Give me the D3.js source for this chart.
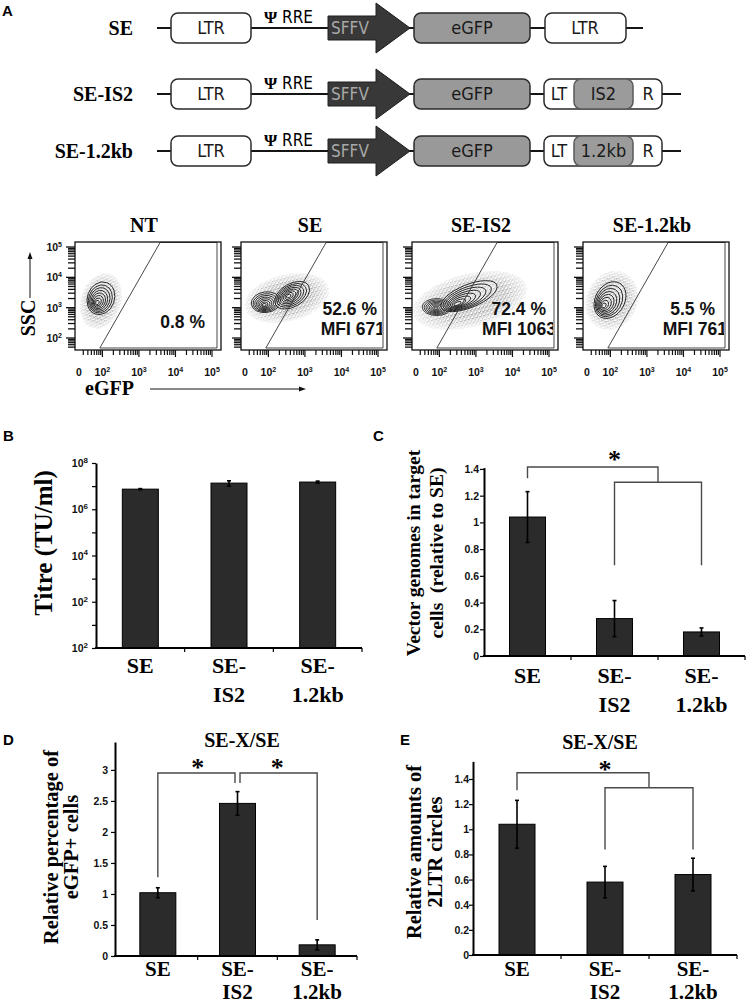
<!DOCTYPE html>
<html><head><meta charset="utf-8">
<script src="https://cdn.jsdelivr.net/npm/d3@7"></script>
<style>body{margin:0;background:#fff}svg{display:block}</style>
</head><body>
<svg id="fig" width="747" height="1004"></svg>
<script>
// ================= DATA =================
const categories = ["SE", "SE-IS2", "SE-1.2kb"];
const categoryLines = [["SE"], ["SE-", "IS2"], ["SE-", "1.2kb"]];
const insertLabels = [null, "IS2", "1.2kb"];

// Panel B : titre (TU/ml), log scale
const titreValues = [7.4e6, 1.35e7, 1.5e7];
const titreErrors = [0.4e6, 0.35e7, 0.15e7];
const titreTicks = [1, 1e1, 1e2, 1e3, 1e4, 1e5, 1e6, 1e7, 1e8];
const titreTickLabels = [["10","2"], null, ["10","2"], null, ["10","4"], null, ["10","6"], null, ["10","8"]];

// Panel C : vector genomes (relative to SE)
const genomeValues = [1.04, 0.28, 0.18];
const genomeErrors = [0.19, 0.135, 0.03];
const genomeTicks = [0, 0.2, 0.4, 0.6, 0.8, 1, 1.2, 1.4];

// Panel D : relative percentage eGFP+ cells
const egfpValues = [1.02, 2.46, 0.18];
const egfpErrors = [0.08, 0.19, 0.08];
const egfpTicks = [0, 0.5, 1, 1.5, 2, 2.5, 3];

// Panel E : relative amounts of 2LTR circles
const ltrValues = [1.04, 0.58, 0.64];
const ltrErrors = [0.19, 0.125, 0.13];
const ltrTicks = [0, 0.2, 0.4, 0.6, 0.8, 1, 1.2, 1.4];

// Flow cytometry (panel A lower)
const flowSamples = ["NT", "SE", "SE-IS2", "SE-1.2kb"];
const flowPercent = ["0.8 %", "52.6 %", "72.4 %", "5.5 %"];
const flowMFI = ["", "MFI 671", "MFI 1063", "MFI 761"];
const flowXTicks = [1.36, 2, 3, 4, 5];              // log10 eGFP ("0" at left)
const flowXTickLabels = [["0",""], ["10","2"], ["10","3"], ["10","4"], ["10","5"]];
const flowYTicks = [2, 3, 4, 5];                     // log10 SSC
const flowYTickLabels = [["10","2"], ["10","3"], ["10","4"], ["10","5"]];
const gateEGFP = [1.93, 3.58];                       // gate edge: bottom / top (log10 eGFP)
// populations: sample, centre x, centre y, half-width, half-height (decades), tilt, core x, core y
const flowPopulations = [
  [0, 1.96, 3.31, 0.37, 0.55, 20, 1.85, 3.15],
  [1, 1.93, 3.18, 0.40, 0.34, -8, 1.88, 3.08],
  [1, 2.65, 3.41, 0.52, 0.38, -30, 2.54, 3.38],
  [2, 1.93, 3.02, 0.40, 0.28, 0, 1.90, 2.98],
  [2, 2.81, 3.38, 0.82, 0.38, -22, 2.45, 3.10],
  [3, 1.99, 3.25, 0.40, 0.64, 30, 1.80, 3.05]
];
// dot clouds: sample, centre x, centre y, half-width, half-height, tilt
const flowClouds = [
  [0, 1.96, 3.22, 0.55, 0.95, 18],
  [1, 2.51, 3.32, 1.18, 0.78, -14],
  [2, 2.84, 3.24, 1.60, 0.88, -14],
  [3, 2.04, 3.24, 0.70, 1.0, 25]
];
const contourLevels = [1, 0.86, 0.73, 0.6, 0.48, 0.36, 0.24, 0.13];

// ================= STYLE =================
const SERIF = '"Liberation Serif","Times New Roman",serif';
const SANS = '"Liberation Sans",Arial,sans-serif';
const NARROW = '"Liberation Sans Narrow","DejaVu Sans Condensed","Liberation Sans",sans-serif';
const BAR = "#2b2b2b";

const svg = d3.select("#fig");
const defs = svg.append("defs");
const pat = defs.append("pattern").attr("id", "dots").attr("width", 4).attr("height", 4)
  .attr("patternUnits", "userSpaceOnUse");
[[0.8,0.9,0.7],[2.9,2.1,0.65],[1.8,3.3,0.6],[3.6,0.3,0.55]].forEach(d =>
  pat.append("circle").attr("cx", d[0]).attr("cy", d[1]).attr("r", d[2]).attr("fill", "#111"));
const rg = defs.append("radialGradient").attr("id", "rg");
rg.append("stop").attr("offset", 0).attr("stop-color", "#fff");
rg.append("stop").attr("offset", 0.6).attr("stop-color", "#eee");
rg.append("stop").attr("offset", 1).attr("stop-color", "#333");
defs.append("mask").attr("id", "fade").attr("maskUnits", "objectBoundingBox")
  .attr("maskContentUnits", "objectBoundingBox")
  .append("rect").attr("width", 1).attr("height", 1).attr("fill", "url(#rg)");

function supText(sel, parts, sizeMain, sizeSup) {
  sel.append("tspan").text(parts[0]).attr("font-size", sizeMain);
  if (parts[1]) sel.append("tspan").text(parts[1]).attr("font-size", sizeSup).attr("dy", -sizeMain * 0.4);
}
function panelLabel(t, x, y) {
  svg.append("text").attr("x", x).attr("y", y).text(t)
    .attr("font-family", SANS).attr("font-weight", "bold").attr("font-size", 15);
}

// ================= PANEL A : constructs =================
panelLabel("A", 2, 16);
const rowCenters = [28, 94, 151];
const A = svg.append("g");
function box(x0, x1, cy, fill, stroke) {
  A.append("rect").attr("x", x0).attr("y", cy - 15).attr("width", x1 - x0).attr("height", 30)
    .attr("rx", 7).attr("fill", fill).attr("stroke", stroke || "#2a2a2a").attr("stroke-width", 1.5);
}
function boxText(t, x, cy, color, size) {
  A.append("text").attr("x", x).attr("y", cy + 6).attr("text-anchor", "middle").text(t)
    .attr("font-family", NARROW).attr("font-size", size || 18).attr("fill", color || "#1a1a1a");
}
categories.forEach((name, i) => {
  const cy = rowCenters[i];
  A.append("text").attr("x", 133).attr("y", cy + 7).attr("text-anchor", "end").text(name)
    .attr("font-family", SERIF).attr("font-weight", "bold").attr("font-size", 20);
  A.append("line").attr("x1", 157).attr("x2", i === 0 ? 643 : 681).attr("y1", cy).attr("y2", cy)
    .attr("stroke", "#151515").attr("stroke-width", 2.2);
  box(171, 251, cy, "#fff"); boxText("LTR", 211, cy);
  const rre = A.append("text").attr("x", 264).attr("y", cy - 5).attr("font-family", NARROW).attr("font-size", 17);
  rre.append("tspan").text("Ψ").attr("font-family", SERIF).attr("font-weight", "bold");
  rre.append("tspan").text(" RRE");
  A.append("path").attr("d", `M328,${cy-12}H376V${cy-25}L410,${cy}L376,${cy+25}V${cy+12}H328Z`)
    .attr("fill", "#383838").attr("stroke", "#1e1e1e").attr("stroke-width", 1);
  boxText("SFFV", 350, cy, "#a8a8a8", 17);
  box(414, 530, cy, "#999"); boxText("eGFP", 472, cy);
  if (!insertLabels[i]) {
    box(545, 626, cy, "#fff"); boxText("LTR", 585, cy);
  } else {
    box(544, 662, cy, "#fff");
    box(574, 633, cy, "#9b9b9b", "#5a5a5a");
    boxText("LT", 559, cy); boxText(insertLabels[i], 603.5, cy); boxText("R", 648, cy);
  }
});

// ================= PANEL A : flow plots =================
const flowLeft = [75, 241, 412, 583];
const FT = 242, FW = 146, FH = 108;
const fx = d3.scaleLinear().domain([1.36, 5]).range([4, 137]);
const fy = d3.scaleLinear().domain([2, 5]).range([96, 5]);

flowSamples.forEach((s, i) => {
  const g = svg.append("g").attr("transform", `translate(${flowLeft[i]},${FT})`);
  g.append("text").attr("x", FW / 2 - 4).attr("y", -10).attr("text-anchor", "middle").text(s)
    .attr("font-family", SERIF).attr("font-weight", "bold").attr("font-size", 20);
  defs.append("clipPath").attr("id", "clip" + i).append("rect").attr("width", 141).attr("height", FH);
  const inner = g.append("g").attr("clip-path", `url(#clip${i})`);
  // dot clouds
  flowClouds.filter(c => c[0] === i).forEach(c => {
    const px = fx(c[1]), py = fy(c[2]);
    inner.append("ellipse").attr("cx", px).attr("cy", py)
      .attr("rx", fx(c[1] + c[3]) - px).attr("ry", py - fy(c[2] + c[4]))
      .attr("transform", `rotate(${c[5]},${px},${py})`)
      .attr("fill", "url(#dots)").attr("mask", "url(#fade)").attr("opacity", 0.7);
  });
  // contours
  flowPopulations.filter(p => p[0] === i).forEach(p => {
    contourLevels.forEach(k => {
      const cx = p[6] + (p[1] - p[6]) * k, cy = p[7] + (p[2] - p[7]) * k;
      const px = fx(cx), py = fy(cy);
      inner.append("ellipse").attr("cx", px).attr("cy", py)
        .attr("rx", (fx(p[1] + p[3]) - fx(p[1])) * k)
        .attr("ry", (fy(p[2]) - fy(p[2] + p[4])) * k)
        .attr("transform", `rotate(${p[5]},${px},${py})`)
        .attr("fill", k === 1 ? "rgba(255,255,255,0.35)" : "none")
        .attr("stroke", "#111").attr("stroke-width", 0.8);
    });
  });
  // gate
  g.append("path").attr("d", `M${fx(gateEGFP[0])},${FH - 2}L${fx(gateEGFP[1])},0.5H${FW - 4}V${FH - 2}Z`)
    .attr("fill", "none").attr("stroke", "#333").attr("stroke-width", 0.9);
  // box
  g.append("rect").attr("width", FW).attr("height", FH).attr("fill", "none")
    .attr("stroke", "#111").attr("stroke-width", 1.3);
  // texts
  const pctX = [130, 136, 134, 132][i], pctY = [86, 73, 73, 73][i];
  inner.append("text").attr("x", pctX).attr("y", pctY).attr("text-anchor", "end").text(flowPercent[i])
    .attr("font-family", SANS).attr("font-weight", "bold").attr("font-size", 17.5).attr("fill", "#111");
  if (flowMFI[i]) inner.append("text").attr("x", 144).attr("y", 93).attr("text-anchor", "end").text(flowMFI[i])
    .attr("font-family", SANS).attr("font-weight", "bold").attr("font-size", 17.5).attr("fill", "#111");
  // y comb
  const yT = [];
  for (let d = 1; d <= 5; d++) for (let k = 1; k <= 9; k++) {
    const v = d + Math.log10(k);
    if (v >= 1.62 && v <= 5.15) yT.push([v, k === 1]);
  }
  g.selectAll(".yt").data(yT).join("line").attr("x1", d => d[1] ? -9 : -7).attr("x2", 0)
    .attr("y1", d => fy(d[0])).attr("y2", d => fy(d[0])).attr("stroke", "#111").attr("stroke-width", 1.3);
  // x comb
  const xT = [];
  for (let d = 1; d <= 5; d++) for (let k = 1; k <= 9; k++) {
    const v = d + Math.log10(k);
    if (v >= 1.36 && v <= 5.05) xT.push([v, k === 1]);
  }
  g.selectAll(".xt").data(xT).join("line").attr("y1", FH).attr("y2", d => FH + (d[1] ? 7 : 5))
    .attr("x1", d => fx(d[0])).attr("x2", d => fx(d[0])).attr("stroke", "#111").attr("stroke-width", 1.2);
  flowXTicks.forEach((v, j) => {
    const t = g.append("text").attr("x", fx(v)).attr("y", FH + 26).attr("text-anchor", "middle")
      .attr("font-family", SANS).attr("font-weight", "bold").attr("fill", "#111");
    supText(t, flowXTickLabels[j], 10.5, 7);
  });
  if (i === 0) flowYTicks.forEach((v, j) => {
    const t = g.append("text").attr("x", -13).attr("y", fy(v) + 4).attr("text-anchor", "end")
      .attr("font-family", SANS).attr("font-weight", "bold").attr("fill", "#111");
    supText(t, flowYTickLabels[j], 10.5, 7);
  });
});
// axis names
svg.append("text").attr("transform", "translate(35,318) rotate(-90)").attr("text-anchor", "middle")
  .text("SSC").attr("font-family", SERIF).attr("font-weight", "bold").attr("font-size", 20);
svg.append("line").attr("x1", 30).attr("x2", 30).attr("y1", 298).attr("y2", 258).attr("stroke", "#111").attr("stroke-width", 1);
svg.append("path").attr("d", "M30,252L27.5,259H32.5Z").attr("fill", "#111");
svg.append("text").attr("x", 85).attr("y", 395).text("eGFP")
  .attr("font-family", SERIF).attr("font-weight", "bold").attr("font-size", 20);
svg.append("line").attr("x1", 150).attr("x2", 300).attr("y1", 389).attr("y2", 389).attr("stroke", "#111").attr("stroke-width", 1);
svg.append("path").attr("d", "M306,389L299,386.5V391.5Z").attr("fill", "#111");

// ================= BAR PANELS =================
function barPanel(o) {
  const g = svg.append("g");
  const x = d3.scaleBand().domain(categories).range(o.band);
  const y = o.y;
  const cxOf = c => Array.isArray(c) ? (cxOf(c[0]) + cxOf(c[1])) / 2 : x(c) + x.bandwidth() / 2;
  const bw = 36;
  g.selectAll(".bar").data(categories).join("rect")
    .attr("x", c => cxOf(c) - bw / 2).attr("width", bw)
    .attr("y", (c, i) => y(o.values[i])).attr("height", (c, i) => o.bottom - y(o.values[i]))
    .attr("fill", BAR).attr("stroke", "#000").attr("stroke-width", 1);
  categories.forEach((c, i) => {
    const xc = cxOf(c), v = o.values[i], e = o.errors[i];
    const y1 = y(v + e), y2 = y(Math.max(v - e, o.minV || 0));
    g.append("line").attr("x1", xc).attr("x2", xc).attr("y1", y1).attr("y2", y2).attr("stroke", "#000").attr("stroke-width", 1.6);
    [y1, y2].forEach(yy => g.append("line").attr("x1", xc - 2).attr("x2", xc + 2).attr("y1", yy).attr("y2", yy)
      .attr("stroke", "#000").attr("stroke-width", 1.6));
  });
  // y axis
  const ax = g.append("g").attr("transform", `translate(${o.axisX},0)`)
    .call(d3.axisLeft(y).tickValues(o.ticks).tickSizeInner(4).tickSizeOuter(0).tickFormat(""));
  ax.select(".domain").attr("stroke", "#000").attr("stroke-width", 2);
  ax.selectAll(".tick line").attr("stroke", "#000").attr("stroke-width", 1.2);
  o.ticks.forEach((v, j) => {
    const lab = o.tickLabels ? o.tickLabels[j] : [String(v), ""];
    if (!lab) return;
    const t = g.append("text").attr("x", o.axisX - o.labelGap).attr("y", y(v) + 4).attr("text-anchor", "end")
      .attr("font-family", SANS).attr("font-weight", "bold").attr("fill", "#111");
    supText(t, lab, 10.5, 8);
  });
  // x axis
  g.append("line").attr("x1", o.axisX - 1).attr("x2", o.axisEnd).attr("y1", o.bottom).attr("y2", o.bottom)
    .attr("stroke", "#000").attr("stroke-width", 2.2);
  categories.forEach(c => {
    const xb = x(c) + x.bandwidth();
    g.append("line").attr("x1", xb).attr("x2", xb).attr("y1", o.bottom).attr("y2", o.bottom + 4)
      .attr("stroke", "#000").attr("stroke-width", 1.2);
  });
  categoryLines.forEach((lines, i) => lines.forEach((l, k) =>
    g.append("text").attr("x", cxOf(categories[i])).attr("y", o.bottom + o.xLab[0] + k * o.xLab[1])
      .attr("text-anchor", "middle").text(l)
      .attr("font-family", SERIF).attr("font-weight", "bold").attr("font-size", o.xLabSize || 22)));
  // y label
  o.yLabel.forEach((l, k) =>
    g.append("text").attr("transform", `translate(${o.yLabelX[k]},${o.yLabelY}) rotate(-90)`)
      .attr("text-anchor", "middle").text(l).style("white-space", "pre")
      .attr("font-family", SERIF).attr("font-weight", "bold").attr("font-size", o.yLabelSize));
  // brackets
  (o.brackets || []).forEach(b => {
    const xa = cxOf(b.from) + (b.dx1 || 0), xb = cxOf(b.to) + (b.dx2 || 0);
    g.append("path").attr("d", `M${xa},${y(b.leftEnd)}V${y(b.y)}H${xb}V${y(b.rightEnd)}`)
      .attr("fill", "none").attr("stroke", "#4a4a4a").attr("stroke-width", 1.4);
  });
  (o.stars || []).forEach(s =>
    g.append("text").attr("x", cxOf(s.at)).attr("y", y(s.y) + 12.6).attr("text-anchor", "middle").text("*")
      .attr("font-family", SERIF).attr("font-weight", "bold").attr("font-size", 26));
  if (o.title) g.append("text").attr("x", o.title[1]).attr("y", o.title[2]).attr("text-anchor", "middle")
    .text(o.title[0]).attr("font-family", SERIF).attr("font-weight", "bold").attr("font-size", 20);
}

// B
panelLabel("B", 3, 441);
barPanel({
  band: [96, 362], axisX: 96, axisEnd: 362, bottom: 648,
  y: d3.scaleLog().domain([1, 1e8]).range([648, 463]),
  values: titreValues, errors: titreErrors, minV: 1,
  ticks: titreTicks, tickLabels: titreTickLabels, labelGap: 8,
  xLab: [25, 29], yLabel: ["Titre (TU/ml)"], yLabelX: [52], yLabelY: 543, yLabelSize: 25
});
// C
panelLabel("C", 373, 441);
barPanel({
  band: [484, 745], axisX: 484, axisEnd: 745, bottom: 656,
  y: d3.scaleLinear().domain([0, 1.41]).range([656, 467.6]),
  values: genomeValues, errors: genomeErrors,
  ticks: genomeTicks, labelGap: 5,
  xLab: [27, 29], yLabel: ["Vector genomes in target", "cells  (relative to SE)"],
  yLabelX: [420, 443], yLabelY: 553, yLabelSize: 19.5,
  brackets: [
    { from: "SE", to: ["SE-IS2", "SE-1.2kb"], y: 1.415, leftEnd: 1.33, rightEnd: 1.30 },
    { from: "SE-IS2", to: "SE-1.2kb", y: 1.30, leftEnd: 0.68, rightEnd: 0.68 }
  ],
  stars: [{ at: "SE-IS2", y: 1.50 }]
});
// D
panelLabel("D", 3, 745);
barPanel({
  band: [118, 357], axisX: 115, axisEnd: 357, bottom: 956,
  y: d3.scaleLinear().domain([0, 3.45]).range([956, 742]),
  values: egfpValues, errors: egfpErrors,
  ticks: egfpTicks, labelGap: 7,
  xLab: [19.5, 23.5], xLabSize: 21, yLabel: ["Relative percentage of", "eGFP+ cells"],
  yLabelX: [58, 78], yLabelY: 847, yLabelSize: 20.5,
  brackets: [
    { from: "SE", to: "SE-IS2", dx2: -2.5, y: 2.95, leftEnd: 1.27, rightEnd: 2.79 },
    { from: "SE-IS2", dx1: 2.5, to: "SE-1.2kb", y: 2.95, leftEnd: 2.79, rightEnd: 0.58 }
  ],
  stars: [{ at: ["SE", "SE-IS2"], y: 3.10 }, { at: ["SE-IS2", "SE-1.2kb"], y: 3.10 }],
  title: ["SE-X/SE", 242, 747]
});
// E
panelLabel("E", 400, 745);
barPanel({
  band: [473, 737], axisX: 473, axisEnd: 737, bottom: 955,
  y: d3.scaleLinear().domain([0, 1.54]).range([955, 761.4]),
  values: ltrValues, errors: ltrErrors,
  ticks: ltrTicks, labelGap: 4,
  xLab: [20.5, 23.5], xLabSize: 21, yLabel: ["Relative amounts of", "2LTR circles"],
  yLabelX: [421, 442], yLabelY: 852, yLabelSize: 20.5,
  brackets: [
    { from: "SE", to: ["SE-IS2", "SE-1.2kb"], y: 1.45, leftEnd: 1.31, rightEnd: 1.33 },
    { from: "SE-IS2", to: "SE-1.2kb", y: 1.33, leftEnd: 0.84, rightEnd: 0.84 }
  ],
  stars: [{ at: "SE-IS2", y: 1.51 }],
  title: ["SE-X/SE", 600, 749]
});
</script>
</body></html>
